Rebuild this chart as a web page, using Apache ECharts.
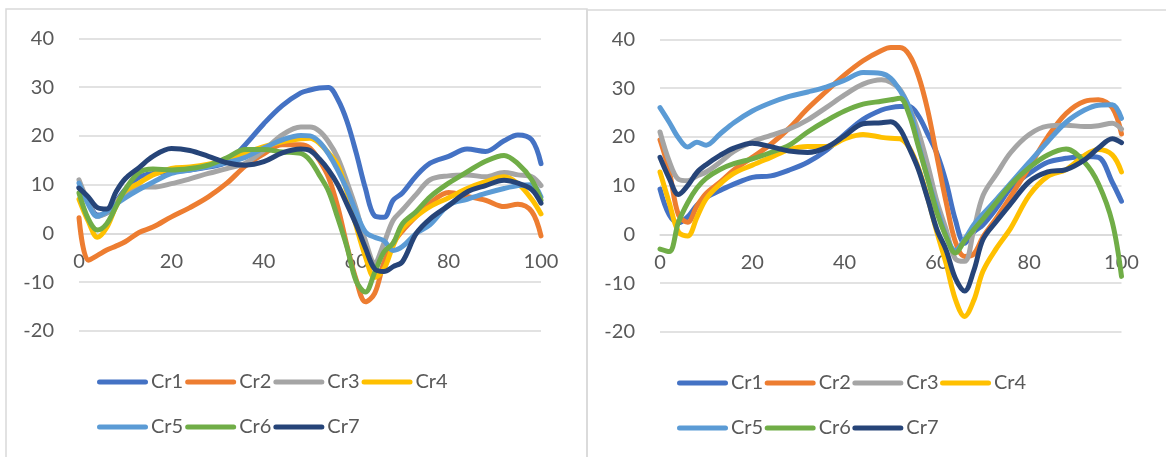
<!DOCTYPE html>
<html>
<head>
<meta charset="utf-8">
<script src="https://cdn.jsdelivr.net/npm/echarts@6/dist/echarts.min.js"></script>
<style>
  html, body { margin: 0; padding: 0; background: #ffffff; }
  #chart { width: 1166px; height: 457px; }
</style>
</head>
<body>
<div id="chart"></div>
<script>
// Percent of cycle at which each curve is sampled
const pct = [0, 2, 4, 6, 8, 10, 13, 16, 20, 24, 28, 32, 36, 40, 44, 48, 50, 52,
             54, 56, 58, 60, 62, 64, 66, 68, 70, 73, 76, 80, 84, 88, 92, 95, 98, 100];

const names = ['Cr1', 'Cr2', 'Cr3', 'Cr4', 'Cr5', 'Cr6', 'Cr7'];
const colors = ['#4472C4', '#ED7D31', '#A5A5A5', '#FFC000', '#5B9BD5', '#70AD47', '#264478'];

const xTicks = [0, 20, 40, 60, 80, 100];
const yTicks = [-20, -10, 0, 10, 20, 30, 40];

// Left panel
const leftCr1 = [9.5, 6.5, 3.8, 4.2, 6.5, 9, 11.5, 12.3, 12.7, 13, 13.6, 14.6, 18.2, 22.5, 26.2, 28.8, 29.4, 29.8,
                 29.9, 27.5, 23, 16.5, 9.2, 3.6, 3.3, 6.8, 8.3, 11.8, 14.4, 15.8, 17.3, 16.8, 19, 20.2, 19.2, 14.3];
const leftCr2 = [3.2, -5.5, -4.5, -3.4, -2.6, -1.7, 0.2, 1.3, 3.4, 5.3, 7.5, 10.3, 13.8, 16.3, 18.2, 18.2, 17.5, 15,
                 11.5, 5.5, -2.5, -9.5, -14, -12.3, -6, -2, 0.5, 3.5, 6.2, 8.4, 7.6, 6.8, 5.5, 6, 4.5, -0.5];
const leftCr3 = [11, 6.5, 3.5, 4.3, 6.3, 8.3, 9.5, 9.5, 10.2, 11.2, 12.3, 13.3, 14.4, 17, 20.2, 21.8, 21.8, 21,
                 18.8, 15.5, 10.5, 5, -1.5, -6, -2, 2.7, 4.8, 8, 11, 11.8, 12, 11.6, 12.5, 12, 11.6, 9.8];
const leftCr4 = [7, 2.5, -0.8, 1.2, 5.5, 8.7, 10.3, 12, 13.3, 13.6, 14.2, 15.2, 16.5, 17.8, 18.8, 19.4, 19.5, 18.5,
                 16.5, 14, 8.5, 1.5, -4.8, -9, -7.3, -2.5, 1, 3.5, 5.5, 7.3, 9.2, 10.6, 11.6, 10.2, 7, 4];
const leftCr5 = [10.3, 6, 3.5, 4.5, 6, 7.3, 9, 10.5, 12.3, 13, 13.7, 14.5, 15.6, 17.5, 19.2, 20.1, 20, 18.8,
                 16.3, 13, 9, 4.3, 0.3, -0.8, -1.5, -3.5, -2.7, 0, 1.8, 5.8, 7, 8.2, 9.2, 9.8, 10, 7.5];
const leftCr6 = [8.3, 3, 0.7, 2, 5.5, 9, 12.5, 13.2, 13, 13.3, 14, 15.5, 17.2, 17.2, 16.7, 16.4, 15, 12,
                 8.7, 3.2, -2.8, -9.8, -12, -8, -3.8, -2, 2, 4.5, 7.5, 10.3, 12.6, 14.8, 16, 14.3, 11, 6.8];
const leftCr7 = [9.3, 7.5, 5.3, 5, 8.5, 11.2, 13.5, 15.8, 17.4, 17, 15.8, 14.5, 14, 14.7, 16.5, 17.3, 17, 15.3,
                 13, 10, 6, 1.8, -3, -7.3, -7.8, -6.8, -5.8, 0, 3, 5.7, 8.5, 9.8, 10.9, 10.3, 9, 6.2];

// Right panel
const rightCr1 = [9.3, 4, 2.4, 3.6, 6, 7.6, 9, 10.3, 11.7, 12, 13.2, 14.8, 17.2, 20.5, 23.6, 25.5, 26, 26.2,
                  26.2, 24.3, 20.6, 16.6, 10.7, 3, -1.8, 0.5, 2, 5.5, 9.5, 12.5, 14.8, 15.6, 16, 15.8, 10.7, 6.8];
const rightCr2 = [19.4, 13, 4, 2.5, 5.8, 8.4, 10.7, 13.2, 15.8, 18.5, 21.8, 25.8, 29.3, 32.7, 35.6, 37.7, 38.3, 38.3,
                  36.8, 32.5, 25.5, 16, 6.6, -1.5, -4.5, -4, -0.5, 3.5, 7.8, 13.8, 20, 24.8, 27.3, 27.6, 26, 20.6];
const rightCr3 = [21, 15, 11.3, 11, 12, 12.8, 14.8, 17, 19, 20.3, 21.6, 23.5, 26, 28.6, 30.8, 31.7, 31.2, 29.7,
                  26, 21, 14.3, 6.8, 1, -5, -5.5, 1, 8, 12.5, 16.8, 20.5, 22.2, 22.4, 22.1, 22.3, 22.8, 21.6];
const rightCr4 = [12.8, 6.5, 0.5, -0.3, 3.5, 7.3, 10.3, 12.5, 14.2, 15.8, 17.4, 18, 18, 19.6, 20.5, 19.9, 19.7, 19.6,
                  17.8, 13.6, 7.5, 0.5, -6, -13.3, -16.8, -13.5, -7.5, -2.7, 1.3, 8, 11.9, 13.3, 16.2, 17.4, 16.3, 12.8];
const rightCr5 = [26, 23, 19.8, 17.9, 18.9, 18.3, 20.6, 22.9, 25.3, 27, 28.3, 29.2, 30.2, 31.6, 33.2, 33, 32, 29.5,
                  26, 18.5, 11.5, 5.3, -0.3, -3.3, -1, 2, 4.2, 7.3, 10.5, 14.8, 19, 23, 25.5, 26.5, 26.6, 23.8];
const rightCr6 = [-3, -3.5, 2.5, 6.5, 9.5, 11.5, 13.3, 14.5, 15.5, 16.8, 18.3, 21, 23.3, 25.3, 26.7, 27.3, 27.6, 27.9,
                  24.5, 18, 11.5, 4.5, -0.5, -3.8, -1.3, 1, 3.2, 6.7, 10.2, 13.7, 16.3, 17.5, 14.8, 10.4, 2.5, -8.6];
const rightCr7 = [15.8, 11.5, 8.2, 10, 12.7, 14.3, 16.2, 17.7, 18.7, 18, 17.1, 16.8, 17.8, 20.2, 22.7, 22.9, 23.1, 21.6,
                  17.7, 13.3, 7.3, 1, -3.2, -9, -11.6, -7.4, -1, 2.8, 6.3, 10.8, 12.8, 13.3, 15.3, 17.7, 19.6, 18.8];

const leftSets = [leftCr1, leftCr2, leftCr3, leftCr4, leftCr5, leftCr6, leftCr7];
const rightSets = [rightCr1, rightCr2, rightCr3, rightCr4, rightCr5, rightCr6, rightCr7];

const FONT = 'Lato, "Open Sans", sans-serif';
const GRID_GRAY = '#d9d9d9';
const TEXT_GRAY = '#595959';
const PLOT_H = 292.7;

// Rounded bar used as the legend key (51 x 5)
const KEY_ICON = 'path://M2.5,0 L48.5,0 A2.5,2.5 0 0 1 48.5,5 L2.5,5 A2.5,2.5 0 0 1 2.5,0 Z';

// Horizontal axis sits on the y = 0 line
const zeroOffset = -PLOT_H * (0 - yTicks[0]) / (yTicks[yTicks.length - 1] - yTicks[0]);

function xAxisFor(gridIndex) {
  return {
    gridIndex: gridIndex,
    type: 'value',
    position: 'bottom',
    offset: zeroOffset,
    min: xTicks[0],
    max: xTicks[xTicks.length - 1],
    interval: xTicks[1] - xTicks[0],
    axisLine: { show: true, onZero: false, lineStyle: { color: GRID_GRAY, width: 1.5 } },
    axisTick: { show: false },
    splitLine: { show: false },
    axisLabel: { margin: 18, fontSize: 20, color: TEXT_GRAY, fontFamily: FONT }
  };
}

function yAxisFor(gridIndex) {
  return {
    gridIndex: gridIndex,
    type: 'value',
    min: yTicks[0],
    max: yTicks[yTicks.length - 1],
    interval: yTicks[1] - yTicks[0],
    axisLine: { show: false, onZero: false },
    axisTick: { show: false },
    splitLine: { show: true, lineStyle: { color: GRID_GRAY, width: 1.5 } },
    axisLabel: { margin: 25, fontSize: 20, color: TEXT_GRAY, fontFamily: FONT }
  };
}

function seriesFor(sets, axisIndex) {
  return sets.map((vals, k) => ({
    name: names[k],
    type: 'line',
    xAxisIndex: axisIndex,
    yAxisIndex: axisIndex,
    data: pct.map((p, i) => [p, vals[i]]),
    smooth: 0.35,
    symbol: 'none',
    color: colors[k],
    lineStyle: { width: 5, color: colors[k], cap: 'round', join: 'round' },
    emphasis: { disabled: true },
    z: 2 + k
  }));
}

function legendRow(left, top, data, gap) {
  return {
    left: left,
    top: top,
    orient: 'horizontal',
    padding: 0,
    itemGap: gap,
    icon: KEY_ICON,
    itemWidth: 51,
    itemHeight: 5,
    data: data,
    selectedMode: false,
    textStyle: { fontSize: 20, color: TEXT_GRAY, fontFamily: FONT, width: 30, overflow: 'none', padding: [0, 0, 0, -2] }
  };
}

const chart = echarts.init(document.getElementById('chart'), null, { renderer: 'canvas' });

chart.setOption({
  backgroundColor: '#ffffff',
  animation: false,
  graphic: [
    { type: 'rect', shape: { x: 6, y: 9, width: 581, height: 480 },
      style: { fill: 'none', stroke: GRID_GRAY, lineWidth: 1.5 }, z: 0 },
    { type: 'rect', shape: { x: 587, y: 10, width: 600, height: 480 },
      style: { fill: 'none', stroke: GRID_GRAY, lineWidth: 1.5 }, z: 0 }
  ],
  grid: [
    { left: 79, top: 38.3, width: 462, height: PLOT_H, containLabel: false },
    { left: 660, top: 39.3, width: 461.5, height: PLOT_H, containLabel: false }
  ],
  xAxis: [xAxisFor(0), xAxisFor(1)],
  yAxis: [yAxisFor(0), yAxisFor(1)],
  legend: [
    legendRow(97, 372, names.slice(0, 4), 2),
    legendRow(97, 417, names.slice(4), 2),
    legendRow(677, 373, names.slice(0, 4), 1.5),
    legendRow(677, 418, names.slice(4), 1.5)
  ],
  series: seriesFor(leftSets, 0).concat(seriesFor(rightSets, 1))
});
</script>
</body>
</html>
